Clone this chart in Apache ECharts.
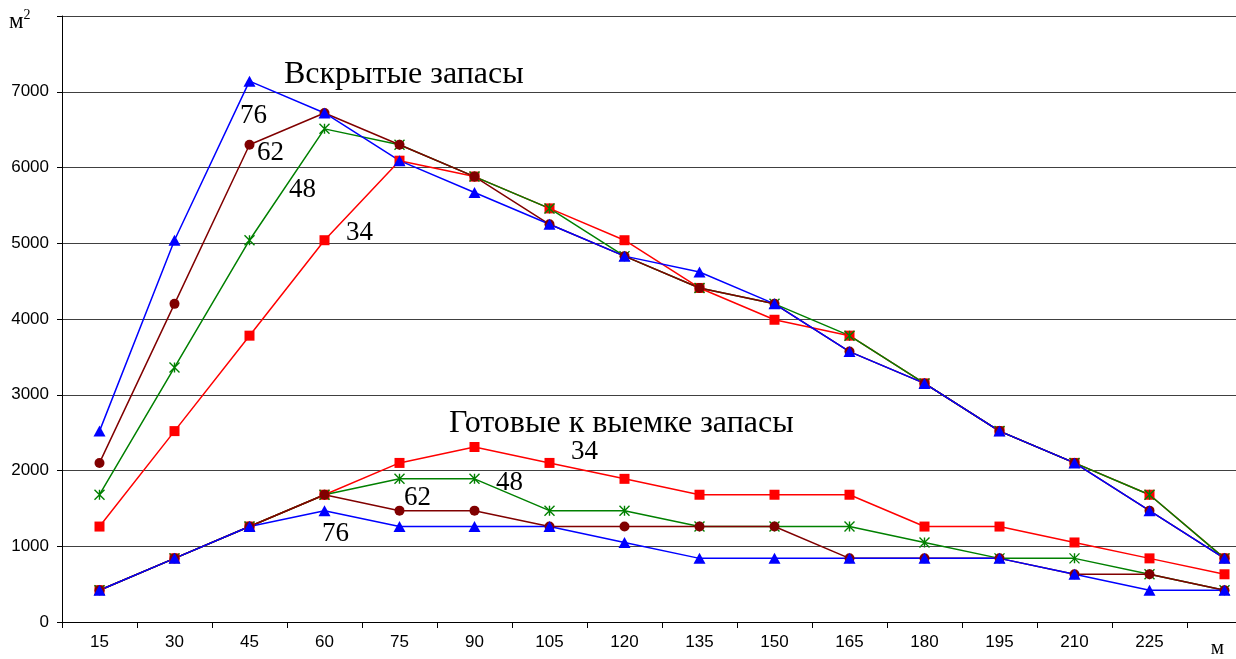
<!DOCTYPE html>
<html lang="ru">
<head>
<meta charset="UTF-8">
<title>Вскрытые и готовые к выемке запасы</title>
<style>html,body{margin:0;padding:0;background:#ffffff;overflow:hidden;}</style>
</head>
<body>
<div id="chart" style="width:1262px;height:659px;"></div>
<script src="https://cdn.jsdelivr.net/npm/echarts@6/dist/echarts.min.js"></script>
<script>
// шаг подвигания, м (последняя категория подписана "м")
var categories = ['15','30','45','60','75','90','105','120','135','150','165','180','195','210','225','м'];

// вскрытые запасы, м2
var open34 = [1260, 2520, 3780, 5040, 6090, 5880, 5460, 5040, 4410, 3990, 3780, 3150, 2520, 2100, 1680, 840];
var open48 = [1680, 3360, 5040, 6510, 6300, 5880, 5460, 4830, 4410, 4200, 3780, 3150, 2520, 2100, 1680, 840];
var open62 = [2100, 4200, 6300, 6720, 6300, 5880, 5250, 4830, 4410, 4200, 3570, 3150, 2520, 2100, 1470, 840];
var open76 = [2520, 5040, 7140, 6720, 6090, 5670, 5250, 4830, 4620, 4200, 3570, 3150, 2520, 2100, 1470, 840];

// готовые к выемке запасы, м2
var ready34 = [420, 840, 1260, 1680, 2100, 2310, 2100, 1890, 1680, 1680, 1680, 1260, 1260, 1050, 840, 630];
var ready48 = [420, 840, 1260, 1680, 1890, 1890, 1470, 1470, 1260, 1260, 1260, 1050, 840, 840, 630, 420];
var ready62 = [420, 840, 1260, 1680, 1470, 1470, 1260, 1260, 1260, 1260, 840, 840, 840, 630, 630, 420];
var ready76 = [420, 840, 1260, 1470, 1260, 1260, 1260, 1050, 840, 840, 840, 840, 840, 630, 420, 420];

var RED = '#ff0000', GREEN = '#008000', BROWN = '#800000', BLUE = '#0000ff';
var serif = '"Liberation Serif", "Times New Roman", serif';
var sans = '"Liberation Sans", Arial, sans-serif';
var star = 'path://M5,0L5,10M0,0L10,10M10,0L0,10';

function line(name, data, color, kind) {
    var s = {
        name: name,
        type: 'line',
        data: data,
        showAllSymbol: true,
        lineStyle: { color: color, width: 1.5 },
        emphasis: { disabled: true }
    };
    if (kind === 'square') {
        s.symbol = 'rect'; s.symbolSize = 10;
        s.itemStyle = { color: color };
    } else if (kind === 'circle') {
        s.symbol = 'circle'; s.symbolSize = 10;
        s.itemStyle = { color: color };
    } else if (kind === 'triangle') {
        s.symbol = 'triangle'; s.symbolSize = [12, 11];
        s.itemStyle = { color: color };
    } else {
        s.symbol = star; s.symbolSize = 10;
        s.itemStyle = { color: 'rgba(0,0,0,0)', borderColor: color, borderWidth: 1.4 };
    }
    return s;
}

function note(text, x, y, size) {
    return {
        type: 'text', left: x, top: y,
        style: { text: text, fontFamily: serif, fontSize: size, fill: '#000' }
    };
}

var myChart = echarts.init(document.getElementById('chart'));
var option = {
    animation: false,
    backgroundColor: '#ffffff',
    grid: { left: 62, top: 16, bottom: 36, right: 0 },
    xAxis: {
        type: 'category',
        data: categories,
        boundaryGap: true,
        axisLine: { lineStyle: { color: '#000', width: 1 } },
        axisTick: { show: true, length: 6, lineStyle: { color: '#000' } },
        axisLabel: {
            interval: 0,
            margin: 12,
            color: '#000',
            fontFamily: sans,
            fontSize: 17,
            formatter: function (v) { return v === 'м' ? '{u|м}' : v; },
            rich: { u: { fontFamily: serif, fontSize: 21, padding: [4, 14, 0, 0] } }
        },
        splitLine: { show: false }
    },
    yAxis: {
        type: 'value',
        min: 0,
        max: 8000,
        interval: 1000,
        axisLine: { show: true, lineStyle: { color: '#000', width: 1 } },
        axisTick: { show: true, length: 5, lineStyle: { color: '#000' } },
        axisLabel: {
            margin: 13,
            color: '#000',
            fontFamily: sans,
            fontSize: 17,
            formatter: function (v) { return v === 8000 ? '' : v; }
        },
        splitLine: { show: true, lineStyle: { color: '#404040', width: 1 } }
    },
    graphic: [
        {
            type: 'text', left: 9, top: 8,
            style: {
                text: '{a|м}{b|2}',
                rich: {
                    a: { fontFamily: serif, fontSize: 23, fill: '#000', padding: [14, 0, 0, 0] },
                    b: { fontFamily: serif, fontSize: 14, fill: '#000' }
                }
            }
        },
        note('Вскрытые запасы', 284, 59, 32),
        note('Готовые к выемке запасы', 449, 408, 32),
        note('76', 240, 102, 27),
        note('62', 257, 139, 27),
        note('48', 289, 176, 27),
        note('34', 346, 219, 27),
        note('34', 571, 438, 27),
        note('48', 496, 469, 27),
        note('62', 404, 484, 27),
        note('76', 322, 520, 27)
    ],
    series: [
        line('Вскрытые 34', open34, RED, 'square'),
        line('Вскрытые 48', open48, GREEN, 'star'),
        line('Вскрытые 62', open62, BROWN, 'circle'),
        line('Вскрытые 76', open76, BLUE, 'triangle'),
        line('Готовые 34', ready34, RED, 'square'),
        line('Готовые 48', ready48, GREEN, 'star'),
        line('Готовые 62', ready62, BROWN, 'circle'),
        line('Готовые 76', ready76, BLUE, 'triangle')
    ]
};
myChart.setOption(option);
</script>
</body>
</html>
